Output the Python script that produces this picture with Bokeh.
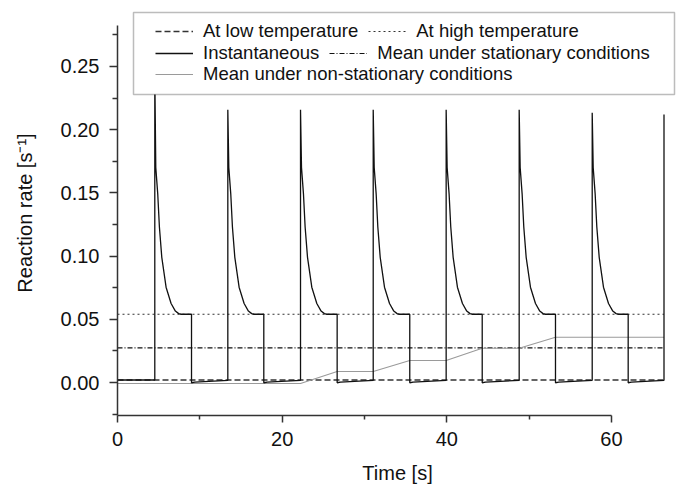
from bokeh.plotting import figure
from bokeh.models import (Range1d, FixedTicker, NumeralTickFormatter, Legend,
                          LegendItem, BoxAnnotation)
from bokeh.embed import file_html
from bokeh.resources import INLINE

# ---- data ----
low_rate = 0.002          # At low temperature
high_rate = 0.054         # At high temperature
mean_stationary = 0.0274  # Mean under stationary conditions
t_end = 66.38

spike_t = [4.53, 13.40, 22.23, 31.06, 39.92, 48.79, 57.66, 66.38]
spike_peak = [0.245, 0.2157, 0.2157, 0.2157, 0.2157, 0.2157, 0.2134, 0.212]
drop_t = [8.99, 17.77, 26.68, 35.50, 44.30, 53.20, 62.03]
decay_dt = [0.12, 0.36, 0.56, 0.85, 1.37, 1.98, 2.5, 2.9, 3.2]
decay_rate = [0.17, 0.149, 0.123, 0.099, 0.0754, 0.0625, 0.0565, 0.0545, 0.054]
dip_dt = [0.0, 0.4]
dip_rate = [-0.0002, 0.0003]
pre_spike_rate = 0.0017

nonstat_t = [0, 22.23, 26.68, 31.06, 35.50, 39.92, 44.30, 48.79, 53.20, 66.38]
nonstat_v = [-0.0008, -0.0008, 0.0087, 0.0087, 0.0174, 0.0174, 0.0271, 0.0271, 0.0358, 0.0358]

x_ticks = [0, 20, 40, 60]
x_minor = [10, 30, 50]
y_ticks = [0.0, 0.05, 0.10, 0.15, 0.20, 0.25]
y_minor = [-0.025, 0.025, 0.075, 0.125, 0.175, 0.225, 0.275]

# ---- build instantaneous series from read values ----
inst_t = [0.0]
inst_v = [low_rate]
for k, ts in enumerate(spike_t):
    inst_t += [ts, ts]
    inst_v += [low_rate if k == 0 else pre_spike_rate, spike_peak[k]]
    if k < len(drop_t):
        for dt, v in zip(decay_dt, decay_rate):
            inst_t.append(ts + dt)
            inst_v.append(v)
        td = drop_t[k]
        inst_t.append(td)
        inst_v.append(high_rate)
        for dt, v in zip(dip_dt, dip_rate):
            inst_t.append(td + dt)
            inst_v.append(v)

ref_t = [0, t_end]

FONT = "Liberation Sans"

p = figure(width=677, height=488, output_backend="svg", toolbar_location=None,
           x_range=Range1d(0, 68.02), y_range=Range1d(-0.0261, 0.2943),
           min_border_left=117, min_border_right=0, min_border_top=10,
           min_border_bottom=73)
p.outline_line_color = None
p.grid.visible = False
p.background_fill_color = "white"

r_low = p.line(ref_t, [low_rate, low_rate], line_color="#333", line_width=1.5,
               line_dash="6 3")
r_high = p.line(ref_t, [high_rate, high_rate], line_color="#333", line_width=1.1,
                line_dash="2 3")
r_mean = p.line(ref_t, [mean_stationary, mean_stationary], line_color="#111",
                line_width=1.2, line_dash="5 2 1 2")
r_nonstat = p.line(nonstat_t, nonstat_v, line_color="#9a9a9a", line_width=1.1)
r_inst = p.line(inst_t, inst_v, line_color="#111", line_width=1.3)

# axes
xa = p.xaxis[0]
xa.ticker = FixedTicker(ticks=x_ticks, minor_ticks=x_minor)
xa.bounds = (0, 60)
ya = p.yaxis[0]
ya.ticker = FixedTicker(ticks=y_ticks, minor_ticks=y_minor)
ya.formatter = NumeralTickFormatter(format="0.00")
ya.bounds = (-0.0261, 0.2824)
for ax in (xa, ya):
    ax.axis_line_color = "#333"
    ax.axis_line_width = 1.5
    ax.major_tick_line_color = "#333"
    ax.minor_tick_line_color = "#333"
    ax.major_tick_line_width = 1.5
    ax.minor_tick_line_width = 1.5
    ax.major_tick_in = 0
    ax.minor_tick_in = 0
    ax.major_label_text_font = FONT
    ax.major_label_text_font_size = "20px"
    ax.major_label_text_color = "#111"
    ax.axis_label_text_font = FONT
    ax.axis_label_text_font_size = "20px"
    ax.axis_label_text_font_style = "normal"
    ax.axis_label_text_color = "#111"
xa.major_tick_out = 7
xa.minor_tick_out = 4
xa.major_label_standoff = 9
xa.axis_label = "Time [s]"
xa.axis_label_standoff = 13
ya.major_tick_out = 8
ya.minor_tick_out = 5
ya.major_label_standoff = 10
ya.axis_label = "Reaction rate [s\u207b\u00b9]"
ya.axis_label_standoff = 22

# legend frame
box = BoxAnnotation(left=16, right=557, bottom=321, top=403,
                    left_units="screen", right_units="screen",
                    top_units="screen", bottom_units="screen",
                    fill_color="white", fill_alpha=1.0,
                    line_color="#222", line_width=1.5)
p.add_layout(box)


def add_row(items, loc):
    lg = Legend(items=items, location=loc, orientation="horizontal",
                glyph_width=38, glyph_height=20, label_height=20,
                label_standoff=10, spacing=10, padding=0, margin=0,
                border_line_alpha=0, background_fill_alpha=0,
                label_text_font=FONT, label_text_font_size="18.5px",
                label_text_color="#111")
    p.add_layout(lg, "center")


add_row([LegendItem(label="At low temperature", renderers=[r_low]),
         LegendItem(label="At high temperature", renderers=[r_high])], (38, 373))
add_row([LegendItem(label="Instantaneous", renderers=[r_inst]),
         LegendItem(label="Mean under stationary conditions", renderers=[r_mean])], (38, 351.5))
add_row([LegendItem(label="Mean under non-stationary conditions", renderers=[r_nonstat])], (38, 330))

open("out.html", "w").write(file_html(p, INLINE))
